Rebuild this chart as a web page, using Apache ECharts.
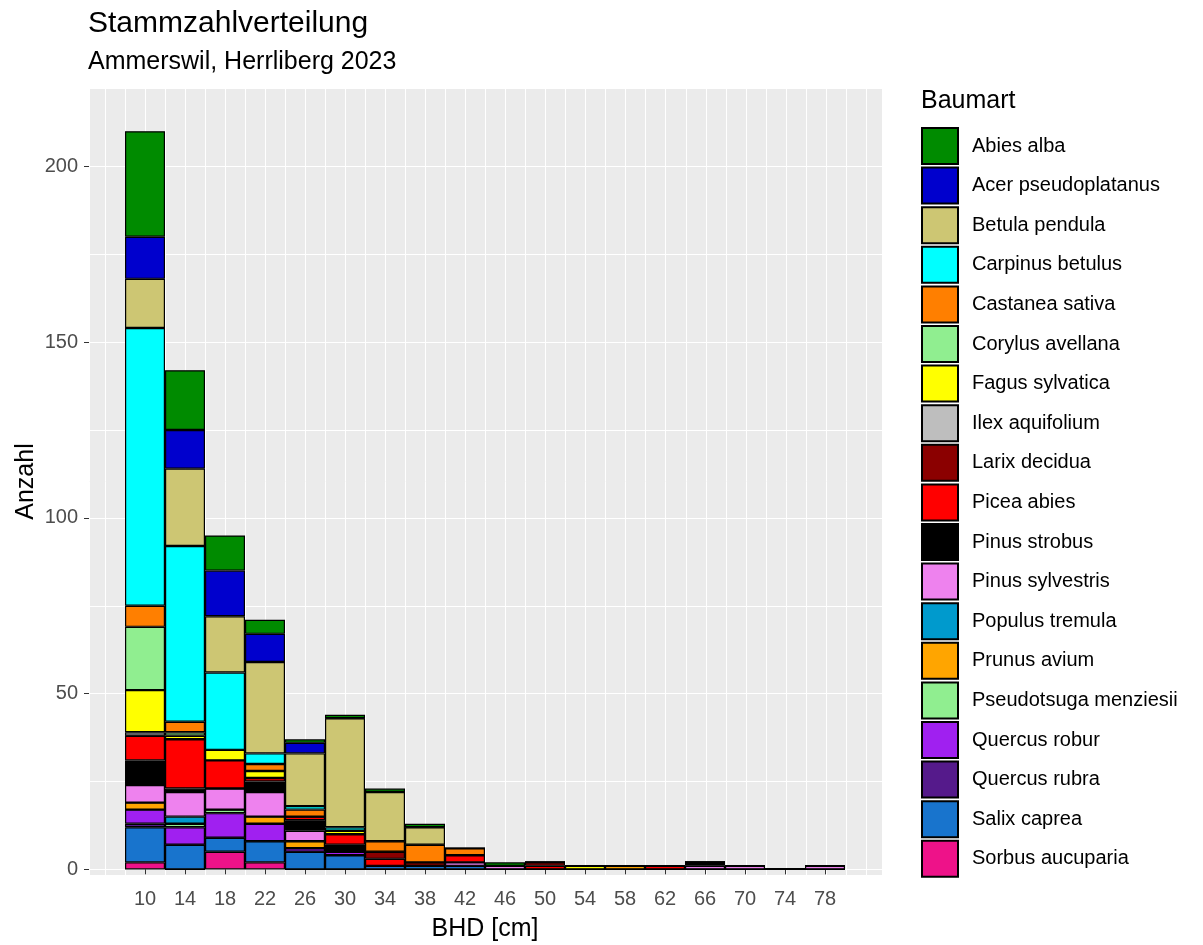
<!DOCTYPE html>
<html>
<head>
<meta charset="utf-8">
<script src="https://cdn.jsdelivr.net/npm/echarts@6.0.0/dist/echarts.min.js"></script>
<style>
  html, body { margin: 0; padding: 0; background: #fff; }
  #chart { width: 1203px; height: 945px; }
</style>
</head>
<body>
<div id="chart"></div>
<script>
// BHD classes (bin centres, cm)
const bhd = ['10', '14', '18', '22', '26', '30', '34', '38', '42', '46', '50', '54', '58', '62', '66', '70', '74', '78'];
const yLabels = [0, 50, 100, 150, 200];

// counts per species and class
const abiesAlba        = [30, 17, 10, 4, 1, 1, 1, 1, 0, 1, 0, 0, 0, 0, 0, 0, 0, 0];
const acerPseudo       = [12, 11, 13, 8, 3, 0, 0, 0, 0, 0, 0, 0, 0, 0, 0, 0, 0, 0];
const betulaPendula    = [14, 22, 16, 26, 15, 31, 14, 5, 0, 0, 0, 0, 0, 0, 0, 0, 0, 0];
const carpinusBetulus  = [79, 50, 22, 3, 1, 1, 0, 0, 0, 0, 0, 0, 0, 0, 0, 0, 0, 0];
const castaneaSativa   = [6, 3, 0, 2, 2, 0, 3, 5, 2, 0, 0, 0, 0, 0, 0, 0, 0, 0];
const corylusAvellana  = [18, 1, 0, 0, 0, 0, 0, 0, 0, 0, 0, 0, 0, 0, 0, 0, 0, 0];
const fagusSylvatica   = [12, 1, 3, 2, 0, 1, 0, 0, 0, 0, 0, 1, 0, 0, 0, 0, 0, 0];
const ilexAquifolium   = [1, 0, 0, 0, 0, 0, 0, 0, 0, 0, 0, 0, 0, 0, 0, 0, 0, 0];
const larixDecidua     = [0, 0, 0, 0, 0, 0, 2, 1, 0, 0, 1, 0, 0, 0, 0, 0, 0, 0];
const piceaAbies       = [7, 14, 8, 1, 1, 3, 2, 0, 2, 0, 1, 0, 0, 1, 0, 0, 0, 0];
const pinusStrobus     = [7, 1, 0, 3, 3, 2, 0, 0, 0, 0, 0, 0, 0, 0, 1, 0, 0, 0];
const pinusSylvestris  = [5, 7, 6, 7, 3, 0, 0, 0, 1, 1, 0, 0, 0, 0, 1, 1, 0, 1];
const populusTremula   = [0, 2, 0, 0, 0, 0, 0, 0, 0, 0, 0, 0, 0, 0, 0, 0, 0, 0];
const prunusAvium      = [2, 0, 0, 2, 2, 0, 0, 0, 0, 0, 0, 0, 1, 0, 0, 0, 0, 0];
const pseudotsuga      = [0, 1, 1, 0, 0, 0, 0, 0, 0, 0, 0, 0, 0, 0, 0, 0, 0, 0];
const quercusRobur     = [4, 5, 7, 5, 1, 1, 0, 0, 0, 0, 0, 0, 0, 0, 0, 0, 0, 0];
const quercusRubra     = [1, 0, 0, 0, 0, 0, 0, 0, 0, 0, 0, 0, 0, 0, 0, 0, 0, 0];
const salixCaprea      = [10, 7, 4, 6, 5, 4, 1, 1, 1, 0, 0, 0, 0, 0, 0, 0, 0, 0];
const sorbusAucuparia  = [2, 0, 5, 2, 0, 0, 0, 0, 0, 0, 0, 0, 0, 0, 0, 0, 0, 0];

// legend order (top of stack first)
const species = [
  ['Abies alba', abiesAlba, '#008B00'],
  ['Acer pseudoplatanus', acerPseudo, '#0000CD'],
  ['Betula pendula', betulaPendula, '#CDC673'],
  ['Carpinus betulus', carpinusBetulus, '#00FFFF'],
  ['Castanea sativa', castaneaSativa, '#FF7F00'],
  ['Corylus avellana', corylusAvellana, '#90EE90'],
  ['Fagus sylvatica', fagusSylvatica, '#FFFF00'],
  ['Ilex aquifolium', ilexAquifolium, '#BEBEBE'],
  ['Larix decidua', larixDecidua, '#8B0000'],
  ['Picea abies', piceaAbies, '#FF0000'],
  ['Pinus strobus', pinusStrobus, '#000000'],
  ['Pinus sylvestris', pinusSylvestris, '#EE82EE'],
  ['Populus tremula', populusTremula, '#009ACD'],
  ['Prunus avium', prunusAvium, '#FFA500'],
  ['Pseudotsuga menziesii', pseudotsuga, '#90EE90'],
  ['Quercus robur', quercusRobur, '#A020F0'],
  ['Quercus rubra', quercusRubra, '#551A8B'],
  ['Salix caprea', salixCaprea, '#1874CD'],
  ['Sorbus aucuparia', sorbusAucuparia, '#EE1289']
];

const font = 'Liberation Sans, Arial, sans-serif';
// panel extent in cm (grid lines every 2 cm)
const xMin = 4.4, xMax = 83.6;
const yMin = -1.6, yMax = 222.3;

var chart = echarts.init(document.getElementById('chart'), null, { renderer: 'canvas' });

// ECharts stacks from the first series upward, so reverse
var series = species.slice().reverse().map(function (s) {
    return {
        name: s[0],
        type: 'bar',
        stack: 'n',
        xAxisIndex: 1,
        yAxisIndex: 2,
        barWidth: '100%',
        data: s[1],
        itemStyle: { color: s[2], borderColor: '#000', borderWidth: 1.2 },
        emphasis: { disabled: true }
    };
});

var option = {
    animation: false,
    backgroundColor: '#fff',
    textStyle: { fontFamily: font },
    title: [
        { text: 'Stammzahlverteilung', left: 88, top: 9, padding: 0,
          textStyle: { fontFamily: font, fontSize: 30, fontWeight: 'normal', color: '#000' } },
        { text: 'Ammerswil, Herrliberg 2023', left: 88, top: 50, padding: 0,
          textStyle: { fontFamily: font, fontSize: 25, fontWeight: 'normal', color: '#000' } },
        { text: 'Baumart', left: 921, top: 89, padding: 0,
          textStyle: { fontFamily: font, fontSize: 25, fontWeight: 'normal', color: '#000' } }
    ],
    legend: {
        orient: 'vertical',
        left: 921,
        top: 127,
        padding: 0,
        icon: 'rect',
        itemWidth: 36,
        itemHeight: 36,
        itemGap: 1.6,
        data: species.map(function (s) { return s[0]; }),
        textStyle: { fontFamily: font, fontSize: 20, color: '#000', padding: [0, 0, 0, 9] },
        selectedMode: false
    },
    grid: [
        {   // grey panel with grid lines
            left: 89, right: 321, top: 88, bottom: 70,
            show: true, backgroundColor: '#EBEBEB', borderWidth: 0,
            outerBoundsMode: 'none'
        },
        {   // bars: 8 cm .. 80 cm
            left: 125, right: 358, top: 88, bottom: 70,
            show: false, outerBoundsMode: 'none'
        }
    ],
    xAxis: [
        {
            type: 'value', gridIndex: 0, min: xMin, max: xMax,
            minInterval: 2, maxInterval: 2, splitNumber: 40,
            axisLine: { show: false }, axisTick: { show: false }, axisLabel: { show: false },
            splitLine: { show: true, lineStyle: { color: '#fff', width: 1 } }
        },
        {
            type: 'category', gridIndex: 1, data: bhd, boundaryGap: true, position: 'bottom',
            axisLine: { show: false },
            axisTick: { show: true, alignWithLabel: true, length: 5, lineStyle: { color: '#333' } },
            axisLabel: { interval: 0, fontFamily: font, fontSize: 20, color: '#4D4D4D', margin: 14 },
            splitLine: { show: false },
            name: 'BHD [cm]', nameLocation: 'middle', nameGap: 42, nameMoveOverlap: false,
            nameTextStyle: { fontFamily: font, fontSize: 25, color: '#000' }
        }
    ],
    yAxis: [
        {
            type: 'value', gridIndex: 0, min: yMin, max: yMax,
            minInterval: 25, maxInterval: 25, splitNumber: 9,
            axisLine: { show: false }, axisTick: { show: false }, axisLabel: { show: false },
            splitLine: { show: true, lineStyle: { color: '#fff', width: 1 } }
        },
        {
            type: 'value', gridIndex: 0, min: yMin, max: yMax, position: 'left',
            axisLine: { show: false },
            axisTick: { show: true, length: 5, customValues: yLabels, lineStyle: { color: '#333' } },
            axisLabel: { customValues: yLabels, fontFamily: font, fontSize: 20, color: '#4D4D4D', margin: 11 },
            splitLine: { show: false },
            name: 'Anzahl', nameLocation: 'middle', nameGap: 50, nameMoveOverlap: false,
            nameTextStyle: { fontFamily: font, fontSize: 25, color: '#000' }
        },
        {
            type: 'value', gridIndex: 1, min: yMin, max: yMax, show: false
        }
    ],
    series: series
};

chart.setOption(option);
</script>
</body>
</html>
